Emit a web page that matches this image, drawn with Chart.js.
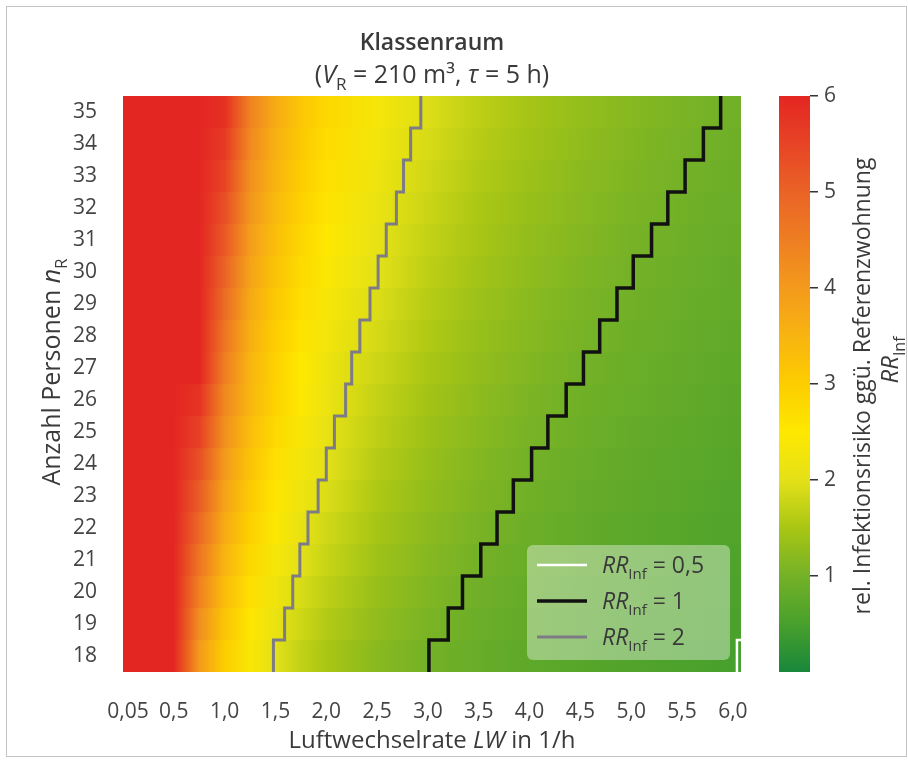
<!DOCTYPE html>
<html>
<head>
<meta charset="utf-8">
<script src="https://cdn.jsdelivr.net/npm/chart.js@4.4.1/dist/chart.umd.min.js"></script>
<style>
  html, body { margin: 0; padding: 0; background: #fff; }
  #wrap { position: relative; width: 908px; height: 762px; }
  #heat { position: absolute; left: 0; top: 0; }
  #scale { position: absolute; left: 760px; top: 0; }
</style>
</head>
<body>
<div id="wrap">
  <canvas id="heat" width="908" height="762"></canvas>
  <canvas id="scale" width="148" height="762"></canvas>
</div>
<script>
// Rows: number of persons in the room
const personCounts = [18, 19, 20, 21, 22, 23, 24, 25, 26, 27, 28, 29, 30, 31, 32, 33, 34, 35];

// Air change rates (1/h) at which each row was read
const airChangeRates = [0.05, 0.25, 0.5, 0.75, 1.0, 1.25, 1.5, 1.75, 2.0, 2.5, 3.0, 3.5, 4.0, 4.5, 5.0, 5.5, 6.0];

// RR_Inf per row (n = 18 ... 35), colour scale capped at 6
const riskRows = [
  [6, 6, 6, 4.0, 3.0, 2.4, 2.0, 1.71, 1.5, 1.2, 1.0, 0.86, 0.75, 0.67, 0.6, 0.55, 0.5],
  [6, 6, 6, 4.22, 3.17, 2.53, 2.11, 1.81, 1.58, 1.27, 1.06, 0.9, 0.79, 0.7, 0.63, 0.58, 0.53],
  [6, 6, 6, 4.44, 3.33, 2.67, 2.22, 1.9, 1.67, 1.33, 1.11, 0.95, 0.83, 0.74, 0.67, 0.61, 0.56],
  [6, 6, 6, 4.67, 3.5, 2.8, 2.33, 2.0, 1.75, 1.4, 1.17, 1.0, 0.88, 0.78, 0.7, 0.64, 0.58],
  [6, 6, 6, 4.89, 3.67, 2.93, 2.44, 2.1, 1.83, 1.47, 1.22, 1.05, 0.92, 0.81, 0.73, 0.67, 0.61],
  [6, 6, 6, 5.11, 3.83, 3.07, 2.56, 2.19, 1.92, 1.53, 1.28, 1.1, 0.96, 0.85, 0.77, 0.7, 0.64],
  [6, 6, 6, 5.33, 4.0, 3.2, 2.67, 2.29, 2.0, 1.6, 1.33, 1.14, 1.0, 0.89, 0.8, 0.73, 0.67],
  [6, 6, 6, 5.56, 4.17, 3.33, 2.78, 2.38, 2.08, 1.67, 1.39, 1.19, 1.04, 0.93, 0.83, 0.76, 0.69],
  [6, 6, 6, 5.78, 4.33, 3.47, 2.89, 2.48, 2.17, 1.73, 1.44, 1.24, 1.08, 0.96, 0.87, 0.79, 0.72],
  [6, 6, 6, 6, 4.5, 3.5, 2.9, 2.5, 2.2, 1.8, 1.5, 1.29, 1.13, 1.0, 0.9, 0.82, 0.75],
  [6, 6, 6, 6, 4.67, 3.6, 3.0, 2.6, 2.28, 1.87, 1.56, 1.33, 1.17, 1.04, 0.93, 0.85, 0.78],
  [6, 6, 6, 6, 4.83, 3.72, 3.1, 2.68, 2.36, 1.93, 1.61, 1.38, 1.21, 1.07, 0.97, 0.88, 0.81],
  [6, 6, 6, 6, 5.0, 3.83, 3.2, 2.76, 2.43, 2.0, 1.67, 1.43, 1.25, 1.11, 1.0, 0.91, 0.83],
  [6, 6, 6, 6, 5.17, 3.95, 3.3, 2.84, 2.5, 2.07, 1.72, 1.48, 1.29, 1.15, 1.03, 0.94, 0.86],
  [6, 6, 6, 6, 5.33, 4.07, 3.4, 2.92, 2.58, 2.13, 1.78, 1.52, 1.33, 1.19, 1.07, 0.97, 0.89],
  [6, 6, 6, 6, 5.5, 4.18, 3.5, 3.0, 2.65, 2.2, 1.83, 1.57, 1.38, 1.22, 1.1, 1.0, 0.92],
  [6, 6, 6, 6, 5.67, 4.3, 3.58, 3.08, 2.72, 2.27, 1.89, 1.62, 1.42, 1.26, 1.13, 1.03, 0.94],
  [6, 6, 6, 6, 5.83, 4.42, 3.67, 3.15, 2.8, 2.33, 1.94, 1.67, 1.46, 1.3, 1.17, 1.06, 0.97]
];

// Contour positions (LW) per row, starting at n = 18
const contourHalf = [6.04, 6.33];
const contourOne = [3.01, 3.20, 3.34, 3.52, 3.68, 3.84, 4.02, 4.18, 4.36, 4.53, 4.69, 4.86, 5.02, 5.20, 5.36, 5.53, 5.71, 5.88];
const contourTwo = [1.48, 1.59, 1.67, 1.74, 1.82, 1.92, 2.00, 2.08, 2.19, 2.25, 2.33, 2.43, 2.51, 2.59, 2.69, 2.76, 2.83, 2.93];

// Axis ticks
const xTickValues = [0.05, 0.5, 1.0, 1.5, 2.0, 2.5, 3.0, 3.5, 4.0, 4.5, 5.0, 5.5, 6.0];
const xTickLabels = ['0,05', '0,5', '1,0', '1,5', '2,0', '2,5', '3,0', '3,5', '4,0', '4,5', '5,0', '5,5', '6,0'];
const colorbarTicks = [1, 2, 3, 4, 5, 6];

const X_MIN = 0, X_MAX = 6.08;
const FONT = "'Open Sans', sans-serif";
const TEXT = '#3a3a3a';

// colour map of the RR_Inf scale
const RR_COLORS = [
  [0, '#18873b'], [0.5, '#48a02c'], [1, '#74b127'], [1.5, '#a9c614'], [2, '#e4e118'],
  [2.5, '#fee800'], [3, '#fdcd00'], [3.5, '#f8b410'], [4, '#f39a1c'], [4.5, '#ee7e22'],
  [5, '#ea6326'], [5.5, '#e74425'], [6, '#e42622']
];

function hexToRgb(h) {
  return [parseInt(h.slice(1, 3), 16), parseInt(h.slice(3, 5), 16), parseInt(h.slice(5, 7), 16)];
}

function rrColor(v) {
  v = Math.max(0, Math.min(6, v));
  for (let i = 1; i < RR_COLORS.length; i++) {
    if (v <= RR_COLORS[i][0]) {
      const [v0, c0] = RR_COLORS[i - 1];
      const [v1, c1] = RR_COLORS[i];
      const t = (v - v0) / (v1 - v0);
      const a = hexToRgb(c0), b = hexToRgb(c1);
      return 'rgb(' + a.map((c, k) => Math.round(c + (b[k] - c) * t)).join(',') + ')';
    }
  }
  return RR_COLORS[RR_COLORS.length - 1][1];
}

// one gradient per row, colour stops at the read positions
function rowGradient(context) {
  const chart = context.chart;
  if (!chart.chartArea || context.dataIndex === undefined) return 'transparent';
  const xs = chart.scales.x;
  const row = riskRows[context.dataIndex];
  const x0 = xs.getPixelForValue(airChangeRates[0]);
  const x1 = xs.getPixelForValue(airChangeRates[airChangeRates.length - 1]);
  const g = chart.ctx.createLinearGradient(x0, 0, x1, 0);
  airChangeRates.forEach((lw, i) => {
    g.addColorStop((xs.getPixelForValue(lw) - x0) / (x1 - x0), rrColor(row[i]));
  });
  return g;
}

// vertical segment through each row, horizontal jump at the row border
function stepPoints(xs) {
  const pts = [];
  xs.forEach((x, i) => {
    const n = personCounts[i];
    pts.push({ x: x, y: n - 0.5 }, { x: x, y: n + 0.5 });
  });
  return pts;
}

// text with italic / subscript parts
function runFont(r, size) {
  const s = (r.sub || r.sup) ? Math.round(size * 0.66) : size;
  return (r.italic ? 'italic ' : '') + (r.weight || 400) + ' ' + s + 'px ' + FONT;
}

function drawRich(ctx, runs, x, y, size, align) {
  ctx.save();
  ctx.fillStyle = TEXT;
  ctx.textAlign = 'left';
  ctx.textBaseline = 'alphabetic';
  let total = 0;
  const widths = runs.map(r => {
    ctx.font = runFont(r, size);
    const w = ctx.measureText(r.text).width;
    total += w;
    return w;
  });
  let cx = align === 'center' ? x - total / 2 : x;
  runs.forEach((r, i) => {
    ctx.font = runFont(r, size);
    const dy = r.sub ? size * 0.28 : (r.sup ? -size * 0.4 : 0);
    ctx.fillText(r.text, cx, y + dy);
    cx += widths[i];
  });
  ctx.restore();
}

const titleLine1 = [{ text: 'Klassenraum', weight: 600 }];
const titleLine2 = [
  { text: '(' }, { text: 'V', italic: true }, { text: 'R', sub: true },
  { text: ' = 210 m³, ' }, { text: 'τ', italic: true }, { text: ' = 5 h)' }
];
const xTitle = [{ text: 'Luftwechselrate ' }, { text: 'LW', italic: true }, { text: ' in 1/h' }];
const yTitle = [{ text: 'Anzahl Personen ' }, { text: 'n', italic: true }, { text: 'R', sub: true }];
const rrRuns = (tail) => [{ text: 'RR', italic: true }, { text: 'Inf', sub: true }, { text: tail }];

const textPlugin = {
  id: 'texts',
  afterDatasetsDraw(chart) {
    const ctx = chart.ctx;
    const a = chart.chartArea;
    // legend box
    const w = 203, h = 115;
    const left = a.right - 11 - w, top = a.bottom - 12 - h;
    ctx.save();
    ctx.fillStyle = 'rgba(255,255,255,0.38)';
    ctx.beginPath();
    ctx.roundRect(left, top, w, h, 6);
    ctx.fill();
    const entries = [[0, ' = 0,5'], [1, ' = 1'], [2, ' = 2']];
    entries.forEach(([di, tail], k) => {
      const ds = chart.data.datasets[di];
      const y = top + 20 + k * 36;
      ctx.strokeStyle = ds.borderColor;
      ctx.lineWidth = ds.borderWidth;
      ctx.beginPath();
      ctx.moveTo(left + 10, y);
      ctx.lineTo(left + 60, y);
      ctx.stroke();
      drawRich(ctx, rrRuns(tail), left + 75, y + 8, 23, 'left');
    });
    ctx.restore();
  },
  afterDraw(chart) {
    const ctx = chart.ctx;
    const a = chart.chartArea;
    const cx = (a.left + a.right) / 2;
    drawRich(ctx, titleLine1, cx, 50, 23, 'center');
    drawRich(ctx, titleLine2, cx, 83, 25, 'center');
    drawRich(ctx, xTitle, cx, 748, 24, 'center');
    ctx.save();
    ctx.translate(60, 372);
    ctx.rotate(-Math.PI / 2);
    drawRich(ctx, yTitle, 0, 0, 25, 'center');
    ctx.restore();
    // picture frame
    ctx.save();
    ctx.strokeStyle = '#c4c4c4';
    ctx.lineWidth = 1;
    ctx.strokeRect(6.5, 6.5, 900, 750);
    ctx.restore();
  }
};

new Chart(document.getElementById('heat'), {
  type: 'bar',
  data: {
    datasets: [
      { type: 'line', data: stepPoints(contourHalf), borderColor: '#ffffff', borderWidth: 2.5, pointRadius: 0, tension: 0, order: 0 },
      { type: 'line', data: stepPoints(contourOne), borderColor: '#111111', borderWidth: 3.5, pointRadius: 0, tension: 0, order: 1 },
      { type: 'line', data: stepPoints(contourTwo), borderColor: '#7d7b86', borderWidth: 3, pointRadius: 0, tension: 0, order: 2 },
      {
        type: 'bar',
        indexAxis: 'y',
        data: personCounts.map(n => ({ y: n, x: [X_MIN, X_MAX] })),
        backgroundColor: rowGradient,
        borderWidth: 0,
        barPercentage: 1,
        categoryPercentage: 1,
        order: 10
      }
    ]
  },
  options: {
    responsive: false,
    animation: false,
    layout: { padding: { left: 0, right: 167, top: 96, bottom: 0 } },
    plugins: { legend: { display: false }, tooltip: { enabled: false } },
    scales: {
      x: {
        type: 'linear',
        min: X_MIN,
        max: X_MAX,
        offset: false,
        afterBuildTicks: s => { s.ticks = xTickValues.map(v => ({ value: v })); },
        afterFit: s => { s.height = 90; },
        grid: { display: false, drawTicks: false },
        border: { display: false },
        ticks: {
          autoSkip: false,
          maxRotation: 0,
          padding: 27,
          color: '#444',
          font: { family: FONT, size: 21 },
          callback: (v, i) => xTickLabels[i]
        }
      },
      y: {
        type: 'linear',
        min: personCounts[0] - 0.5,
        max: personCounts[personCounts.length - 1] + 0.5,
        offset: false,
        afterBuildTicks: s => { s.ticks = personCounts.map(v => ({ value: v })); },
        afterFit: s => { s.width = 123; },
        grid: { display: false, drawTicks: false },
        border: { display: false },
        ticks: {
          autoSkip: false,
          padding: 26,
          color: '#444',
          font: { family: FONT, size: 21 },
          callback: v => String(v)
        }
      }
    }
  },
  plugins: [textPlugin]
});

// colour bar
function barGradient(context) {
  const chart = context.chart;
  if (!chart.chartArea) return 'transparent';
  const ys = chart.scales.y;
  const y0 = ys.getPixelForValue(0), y1 = ys.getPixelForValue(6);
  const g = chart.ctx.createLinearGradient(0, y0, 0, y1);
  RR_COLORS.forEach(([v, c]) => g.addColorStop((ys.getPixelForValue(v) - y0) / (y1 - y0), c));
  return g;
}

const barTitlePlugin = {
  id: 'barTitle',
  afterDraw(chart) {
    const ctx = chart.ctx;
    ctx.save();
    ctx.translate(110, 386);
    ctx.rotate(-Math.PI / 2);
    drawRich(ctx, [{ text: 'rel. Infektionsrisiko ggü. Referenzwohnung' }], 0, 0, 23, 'center');
    ctx.restore();
    ctx.save();
    ctx.translate(138, 360);
    ctx.rotate(-Math.PI / 2);
    drawRich(ctx, rrRuns(''), 0, 0, 24, 'center');
    ctx.restore();
  }
};

new Chart(document.getElementById('scale'), {
  type: 'bar',
  data: {
    labels: [''],
    datasets: [{ data: [[0, 6]], backgroundColor: barGradient, borderWidth: 0, barPercentage: 1, categoryPercentage: 1 }]
  },
  options: {
    responsive: false,
    animation: false,
    layout: { padding: { left: 19, right: 0, top: 96, bottom: 90 } },
    plugins: { legend: { display: false }, tooltip: { enabled: false } },
    scales: {
      x: { display: false },
      y: {
        position: 'right',
        min: 0,
        max: 6,
        afterBuildTicks: s => { s.ticks = colorbarTicks.map(v => ({ value: v })); },
        afterFit: s => { s.width = 98; },
        grid: { drawOnChartArea: false, drawTicks: true, tickLength: 8, color: '#333', lineWidth: 1.5 },
        border: { display: false },
        ticks: { padding: 6, color: '#444', font: { family: FONT, size: 21 } }
      }
    }
  },
  plugins: [barTitlePlugin]
});
</script>
</body>
</html>
